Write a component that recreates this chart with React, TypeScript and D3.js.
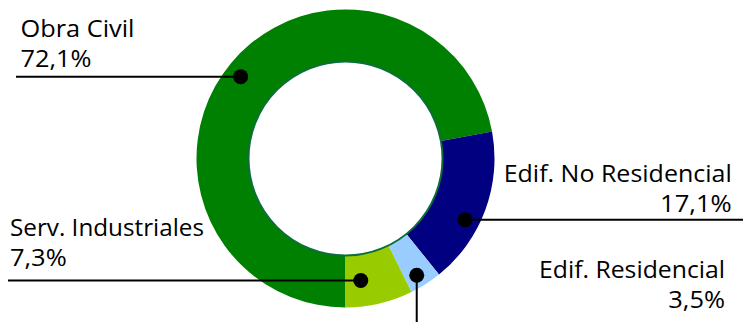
import React from "react";
import * as d3 from "d3";

const categories = ["Obra Civil", "Edif. No Residencial", "Edif. Residencial", "Serv. Industriales"];
const values = [72.1, 17.1, 3.5, 7.3];
const valueLabels = ["72,1%", "17,1%", "3,5%", "7,3%"];
const colors = ["#008000", "#000080", "#99ccff", "#99cc00"];

const W = 743;
const H = 322;
const cx = 345.5;
const cy = 158.5;
const outerR = 149;
const innerR = 97;
const fontFamily = "'Open Sans', sans-serif";
const fs = 23;

// label anchor tweaks (degrees shift from slice middle, radius of dot)
const dotLayout = [
  { shift: -1.8, r: 133 },
  { shift: 6.8, r: 134.4 },
  { shift: 1.2, r: 136.8 },
  { shift: 6.0, r: 123 },
];

// text layout
const textLayout = [
  { x: 20.5, y1: 36.7, y2: 66.7, anchor: "start", w1: 114, w2: 71 },
  { x: 731.7, y1: 181.7, y2: 211.7, anchor: "end", w1: 228, w2: 71.7 },
  { x: 725, y1: 277.7, y2: 307.7, anchor: "end", w1: 186, w2: 56.7 },
  { x: 10, y1: 235.5, y2: 265.7, anchor: "start", w1: 194, w2: 56.7 },
];

export default function App() {
  const data = categories.map((c, i) => ({ name: c, value: values[i], label: valueLabels[i], color: colors[i] }));
  const pie = d3
    .pie<any>()
    .value((d) => d.value)
    .sort(null)
    .startAngle(Math.PI)
    .endAngle(3 * Math.PI);
  const arcs = pie(data);
  const arc = d3.arc<any>().innerRadius(innerR).outerRadius(outerR);

  const dots = arcs.map((a, i) => {
    const ang = (a.startAngle + a.endAngle) / 2 + (dotLayout[i].shift * Math.PI) / 180;
    const r = dotLayout[i].r;
    return { x: cx + r * Math.sin(ang), y: cy - r * Math.cos(ang) };
  });

  return (
    <svg width={W} height={H} style={{ position: "absolute", left: 0, top: 0 }}>
      <g transform={`translate(${cx},${cy})`}>
        {arcs.map((a, i) => (
          <path key={i} d={arc(a) as string} fill={a.data.color} />
        ))}
        <circle r={innerR} fill="white" stroke="#0b6e3c" strokeWidth={2} />
      </g>
      <line x1={16} x2={dots[0].x} y1={dots[0].y} y2={dots[0].y} stroke="black" strokeWidth={2} />
      <line x1={dots[1].x} x2={W} y1={dots[1].y} y2={dots[1].y} stroke="black" strokeWidth={2} />
      <line x1={dots[2].x} x2={dots[2].x} y1={dots[2].y} y2={H} stroke="black" strokeWidth={2} />
      <line x1={8} x2={dots[3].x} y1={dots[3].y} y2={dots[3].y} stroke="black" strokeWidth={2} />
      {textLayout.map((t, i) => (
        <g key={i} fontFamily={fontFamily} fontSize={fs} fill="#000">
          <text x={t.x} y={t.y1} textAnchor={t.anchor as any} textLength={t.w1} lengthAdjust="spacingAndGlyphs">
            {categories[i]}
          </text>
          <text x={t.x} y={t.y2} textAnchor={t.anchor as any} textLength={t.w2} lengthAdjust="spacingAndGlyphs">
            {valueLabels[i]}
          </text>
        </g>
      ))}
      {dots.map((d, i) => (
        <circle key={i} cx={d.x} cy={d.y} r={7.5} fill="black" />
      ))}
    </svg>
  );
}
